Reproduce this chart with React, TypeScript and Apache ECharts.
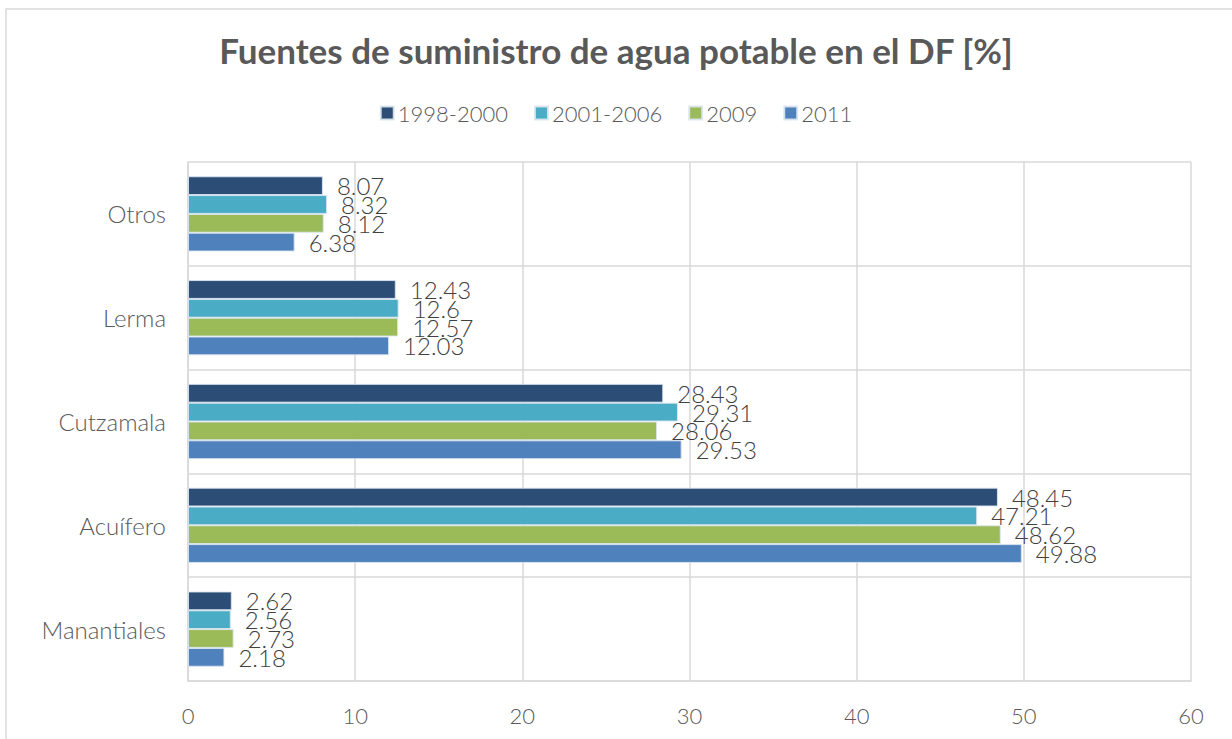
import React, { useEffect, useRef } from "react";
import * as echarts from "echarts";

const categories = ["Manantiales", "Acuífero", "Cutzamala", "Lerma", "Otros"];
const seriesNames = ["1998-2000", "2001-2006", "2009", "2011"];
const v1998_2000 = [2.62, 48.45, 28.43, 12.43, 8.07];
const v2001_2006 = [2.56, 47.21, 29.31, 12.6, 8.32];
const v2009 = [2.73, 48.62, 28.06, 12.57, 8.12];
const v2011 = [2.18, 49.88, 29.53, 12.03, 6.38];
const seriesColors = ["#2C4D75", "#4BACC6", "#9BBB59", "#4F81BD"];
const xTicks = { min: 0, max: 60, interval: 10 };
const titleText = "Fuentes de suministro de agua potable en el DF [%]";

const FONT = "Lato, 'Open Sans', sans-serif";

export default function App() {
  const ref = useRef<HTMLDivElement>(null);
  useEffect(() => {
    if (!ref.current) return;
    const chart = echarts.init(ref.current, undefined, { renderer: "svg" });
    const values = [v1998_2000, v2001_2006, v2009, v2011];
    chart.setOption({
      animation: false,
      backgroundColor: "#ffffff",
      textStyle: { fontFamily: FONT },
      title: {
        text: titleText,
        left: "center",
        top: 27,
        textStyle: { fontFamily: FONT, fontSize: 35, fontWeight: "bold", color: "#595959" },
      },
      legend: {
        data: seriesNames,
        top: 97,
        left: "center",
        itemWidth: 13,
        itemHeight: 13,
        itemGap: 26,
        icon: "rect",
        textStyle: { fontFamily: FONT, fontSize: 22, fontWeight: 300, color: "#595959", padding: [0, 0, 0, -1] },
      },
      graphic: [
        {
          type: "rect",
          shape: { x: 6, y: 9, width: 1300, height: 800 },
          style: { fill: "none", stroke: "#D9D9D9", lineWidth: 1.5 },
          silent: true,
          z: -1,
        },
      ],
      grid: { left: 188, top: 162, right: 41, bottom: 58, containLabel: false },
      xAxis: {
        type: "value",
        min: xTicks.min,
        max: xTicks.max,
        interval: xTicks.interval,
        axisLine: { show: true, lineStyle: { color: "#D9D9D9", width: 1.5 } },
        axisTick: { show: false },
        axisLabel: { fontFamily: FONT, fontSize: 22, fontWeight: 300, color: "#595959", margin: 23 },
        splitLine: { show: true, lineStyle: { color: "#D9D9D9", width: 1.5 } },
      },
      yAxis: {
        type: "category",
        data: categories,
        axisLine: { show: true, lineStyle: { color: "#D9D9D9", width: 1.5 } },
        axisTick: { show: false },
        axisLabel: { fontFamily: FONT, fontSize: 24, fontWeight: 300, color: "#595959", margin: 22 },
        splitLine: { show: true, lineStyle: { color: "#D9D9D9", width: 1.5 } },
      },
      series: seriesNames.map((name, i) => ({
        name,
        type: "bar",
        data: values[i],
        barGap: "0%",
        barCategoryGap: "27.5%",
        itemStyle: { color: seriesColors[i], borderColor: "rgba(220,230,240,0.9)", borderWidth: 1 },
        label: {
          show: true,
          position: "right",
          distance: 14,
          fontFamily: FONT,
          fontSize: 24,
          fontWeight: 300,
          color: "#404040",
          formatter: (p: any) => String(p.value),
        },
      })),
    });
    return () => chart.dispose();
  }, []);
  return (
    <div
      ref={ref}
      style={{ position: "fixed", left: 0, top: 0, width: 1232, height: 739 }}
    />
  );
}
